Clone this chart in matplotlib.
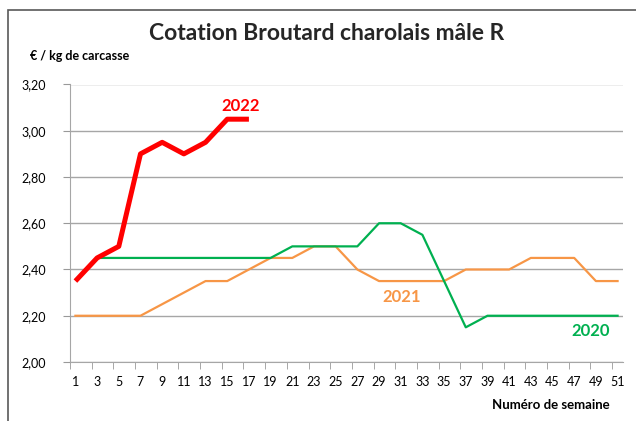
import matplotlib.pyplot as plt
from matplotlib.patches import Rectangle
import numpy as np

plt.rcParams['font.family'] = ['Lato', 'DejaVu Sans']

# semaines impaires
weeks = list(range(1, 52, 2))

y2022 = [2.35, 2.45, 2.50, 2.90, 2.95, 2.90, 2.95, 3.05, 3.05]
y2021 = [2.20, 2.20, 2.20, 2.20, 2.25, 2.30, 2.35, 2.35, 2.40, 2.45, 2.45, 2.50, 2.50,
         2.40, 2.35, 2.35, 2.35, 2.35, 2.40, 2.40, 2.40, 2.45, 2.45, 2.45, 2.35, 2.35]
y2020 = [None, 2.45, 2.45, 2.45, 2.45, 2.45, 2.45, 2.45, 2.45, 2.45, 2.50, 2.50, 2.50,
         2.50, 2.60, 2.60, 2.55, 2.35, 2.15, 2.20, 2.20, 2.20, 2.20, 2.20, 2.20, 2.20]

y2020 = np.array([np.nan if v is None else v for v in y2020])

fig = plt.figure(figsize=(6.36, 4.21), dpi=100)
ax = fig.add_axes([70/636, 1-362/421, 553/636, 277.5/421])

# cadre du graphique
fig.patches.append(Rectangle((8/636, -0.1), 1.2, 1-10/421+0.1, transform=fig.transFigure,
                             fill=False, edgecolor='#595959', linewidth=1.2))

ax.plot(weeks, y2021, color='#F79646', lw=1.6, zorder=3)
ax.plot(weeks, y2020, color='#00B050', lw=1.6, zorder=3)
ax.plot(weeks[:len(y2022)], y2022, color='#FF0000', lw=3.6, zorder=4, solid_capstyle='butt')

ax.set_xlim(0.5, 51.5)
ax.set_ylim(2.0, 3.2)
ax.set_yticks(np.arange(2.0, 3.21, 0.2))
ax.set_yticklabels([f'{v:.2f}'.replace('.', ',') for v in np.arange(2.0, 3.21, 0.2)])
ax.set_xticks(weeks)
ax.set_xticklabels([str(w) for w in weeks])
ax.set_xticks(np.arange(0.5, 51.6, 2), minor=True)
ax.tick_params(axis='x', which='major', length=0, labelsize=9, pad=10, colors='#000000')
ax.tick_params(axis='x', which='minor', length=5, color='#999999', direction='out')
ax.tick_params(axis='y', length=5, color='#999999', labelsize=9, pad=12)

ax.grid(axis='y', color='#A6A6A6', lw=1)
ax.set_axisbelow(True)
for s in ['top', 'right']:
    ax.spines[s].set_visible(False)
ax.spines['left'].set_color('#A6A6A6')
ax.spines['bottom'].set_color('#A6A6A6')

ax.text(16.2, 3.108, '2022', color='#FF0000', fontsize=12, fontweight='bold', ha='center', va='center')
ax.text(31.1, 2.28, '2021', color='#F79646', fontsize=12, fontweight='bold', ha='center', va='center')
ax.text(48.55, 2.135, '2020', color='#00B050', fontsize=12, fontweight='bold', ha='center', va='center')

fig.text(327/636, 1-33/421, 'Cotation Broutard charolais mâle R', fontsize=16.5, fontweight='bold',
         ha='center', va='center', color='#262626')
fig.text(30/636, 1-56/421, '€ / kg de carcasse', fontsize=9, fontweight='bold', ha='left', va='center')
fig.text(610/636, 1-405/421, 'Numéro de semaine', fontsize=9.5, fontweight='bold', ha='right', va='center')

fig.savefig('out.png', dpi=100)
